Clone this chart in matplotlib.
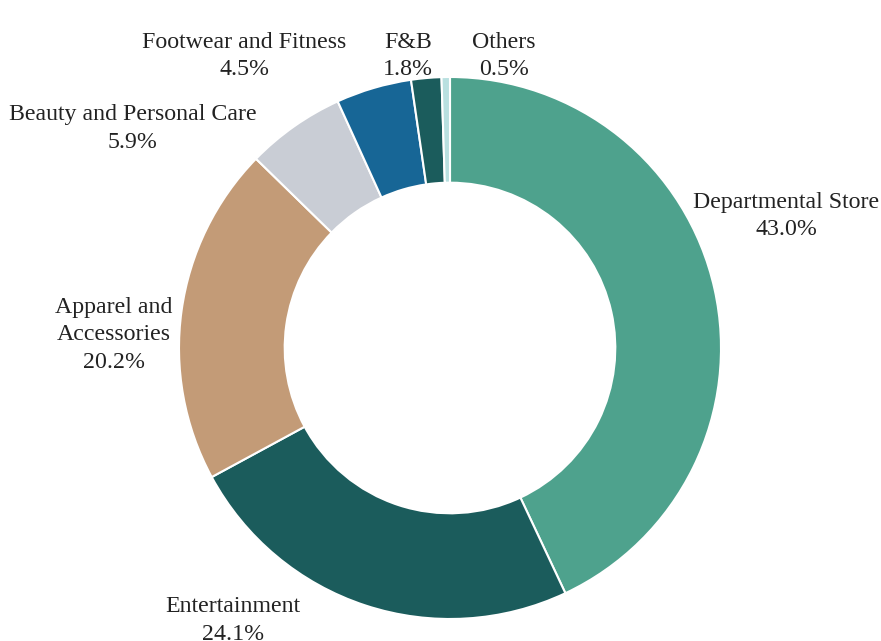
import matplotlib.pyplot as plt

# Share of spend by category (%)
categories = ['Departmental Store', 'Entertainment', 'Apparel and\nAccessories',
              'Beauty and Personal Care', 'Footwear and Fitness', 'F&B', 'Others']
shares = [43.0, 24.1, 20.2, 5.9, 4.5, 1.8, 0.5]
colors = ['#4ea28d', '#1b5c5c', '#c39b77', '#c9cdd5', '#176696', '#1b5c5c', '#b9e0e0']

# label anchor positions (in pie radius units)
label_pos = [(1.24, 0.487), (-0.80, -1.005), (-1.24, 0.048), (-1.17, 0.81),
             (-0.76, 1.077), (-0.155, 1.077), (0.20, 1.077)]

plt.rcParams['font.family'] = ['Liberation Serif', 'DejaVu Serif']

fig = plt.figure(figsize=(8.81, 6.41), dpi=100)
ax = fig.add_axes([0, 0, 1, 1])

ax.pie(shares, colors=colors, startangle=90, counterclock=False, radius=1.0,
       wedgeprops=dict(width=0.39, edgecolor='white', linewidth=1.5))

for name, val, (x, y) in zip(categories, shares, label_pos):
    ax.text(x, y, f'{name}\n{val:.1f}%', ha='center', va='center',
            fontsize=17.2, color='#222222', linespacing=1.42)

ax.set_xlim(-450 / 271, 431 / 271)
ax.set_ylim(-293 / 271, 348 / 271)
ax.axis('off')

fig.savefig('out.png', dpi=100)
